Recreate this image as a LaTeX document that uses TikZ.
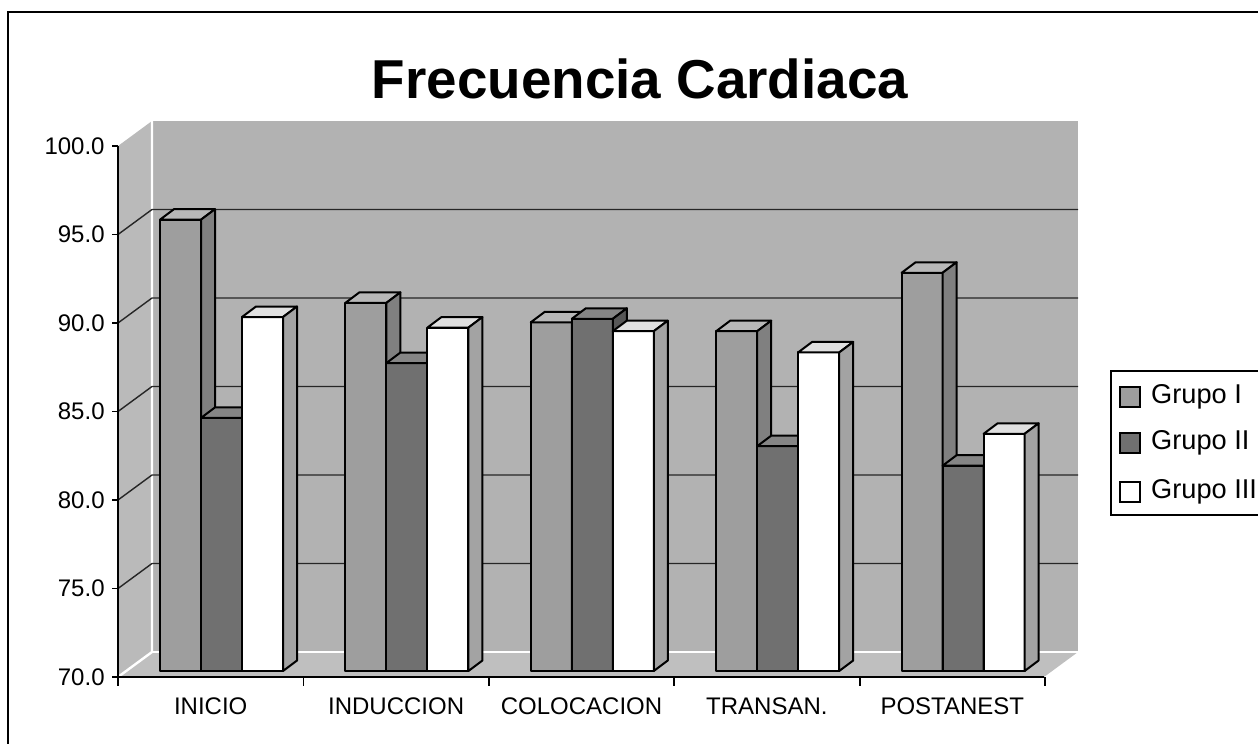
\documentclass[tikz,border=0pt]{standalone}
\usepackage{fontspec}
\setmainfont{Liberation Sans}
\usetikzlibrary{positioning}

\tikzset{
  pared/.style={fill=black!30, draw=none},
  rejilla/.style={draw=black!85, line width=0.7pt},
  borde/.style={draw=white, line width=1.2pt},
  eje/.style={draw=black, line width=0.9pt},
  front1/.style={fill=black!38, draw=black, line width=1pt, line join=round},
  top1/.style={fill=black!28, draw=black, line width=1pt, line join=round},
  side1/.style={fill=black!50, draw=black, line width=1pt, line join=round},
  front2/.style={fill=black!56, draw=black, line width=1pt, line join=round},
  top2/.style={fill=black!48, draw=black, line width=1pt, line join=round},
  side2/.style={fill=black!66, draw=black, line width=1pt, line join=round},
  front3/.style={fill=white, draw=black, line width=1pt, line join=round},
  top3/.style={fill=black!12, draw=black, line width=1pt, line join=round},
  side3/.style={fill=black!36, draw=black, line width=1pt, line join=round},
  ylab/.style={anchor=east, inner sep=0pt, font=\fontsize{12}{14}\selectfont},
  xlab/.style={inner sep=0pt, font=\fontsize{12}{14}\selectfont},
  leglab/.style={inner sep=0pt, font=\fontsize{13.6}{15}\selectfont},
  muestra/.style={draw=black, line width=0.8pt, minimum size=10pt, inner sep=0pt}
}

% one 3D bar: left x, value, group
\newcommand{\barra}[3]{%
  \pgfmathsetmacro{\bxl}{#1}
  \pgfmathsetmacro{\bxr}{#1+41}
  \pgfmathsetmacro{\byt}{671-(#2-70)*17.7}
  \filldraw[front#3] (\bxl,671) rectangle (\bxr,\byt);
  \filldraw[top#3] (\bxl,\byt) -- ++(14,-10.5) -- ++(41,0) -- ++(-14,10.5) -- cycle;
  \filldraw[side#3] (\bxr,671) -- ++(14,-10.5) -- (\bxr+14,\byt-10.5) -- (\bxr,\byt) -- cycle;
}

\begin{document}
\begin{tikzpicture}[x=0.5pt, y=-0.5pt]
  \useasboundingbox (0,0) rectangle (1258,744);
  % frame
  \draw[line width=1pt] (8,744) -- (8,12) -- (1258,12);

  % title
  \node[anchor=base, inner sep=0pt, font=\fontsize{27.4}{30}\bfseries] (titulo) at (640,98) {Frecuencia Cardiaca};

  % walls and floor
  \fill[pared, fill=black!27] (118,146) -- (152,121) -- (152,652) -- (118,677) -- cycle;
  \fill[pared] (152,121) rectangle (1078,652);
  \fill[pared, fill=black!25] (118,677) -- (152,652) -- (1078,652) -- (1044,677) -- cycle;
  \draw[borde] (152,121) -- (152,652) -- (118,677);
  \draw[borde] (152,652) -- (1078,652);

  % grid lines
  \foreach \v in {75,80,...,95} {
    \pgfmathsetmacro{\yy}{677-(\v-70)*17.7}
    \draw[rejilla] (118,\yy) -- (152,\yy-25) -- (1078,\yy-25);
  }

  % axes and ticks
  \draw[eje] (118,146) -- (118,677) -- (1044,677);
  \foreach \v [count=\k] in {70,75,...,100} {
    \pgfmathsetmacro{\yy}{677-(\v-70)*17.7}
    \draw[eje] (112,\yy) -- (118,\yy);
    \node[ylab] (y\k) at (105,\yy) {\v.0};
  }

  % bars
  \foreach \cat/\va/\vb/\vc [count=\i from 0] in {INICIO/95.5/84.3/90.0,
      INDUCCION/90.8/87.4/89.4, COLOCACION/89.7/89.9/89.2,
      TRANSAN./89.2/82.7/88.0, POSTANEST/92.5/81.6/83.4} {
    \pgfmathsetmacro{\xt}{118+\i*185.4}
    \barra{\xt+42}{\va}{1}
    \barra{\xt+83}{\vb}{2}
    \barra{\xt+124}{\vc}{3}
    \draw[eje] (\xt+185.4,677) -- (\xt+185.4,686);
    \node[xlab] (cat\i) at (\xt+92.7,706) {\cat};
  }
  \draw[eje] (118,677) -- (118,686);

  % legend
  \draw[line width=0.8pt] (1258,371) -- (1111,371) -- (1111,515) -- (1258,515);
  \node[muestra, fill=black!38] (m1) at (1130,397) {};
  \node[muestra, fill=black!56] (m2) at (1130,443) {};
  \node[muestra, fill=white] (m3) at (1130,492) {};
  \node[leglab, right=5pt of m1] (g1) {Grupo I};
  \node[leglab, right=5pt of m2] (g2) {Grupo II};
  \node[leglab, right=5pt of m3] (g3) {Grupo III};
\end{tikzpicture}
\end{document}
